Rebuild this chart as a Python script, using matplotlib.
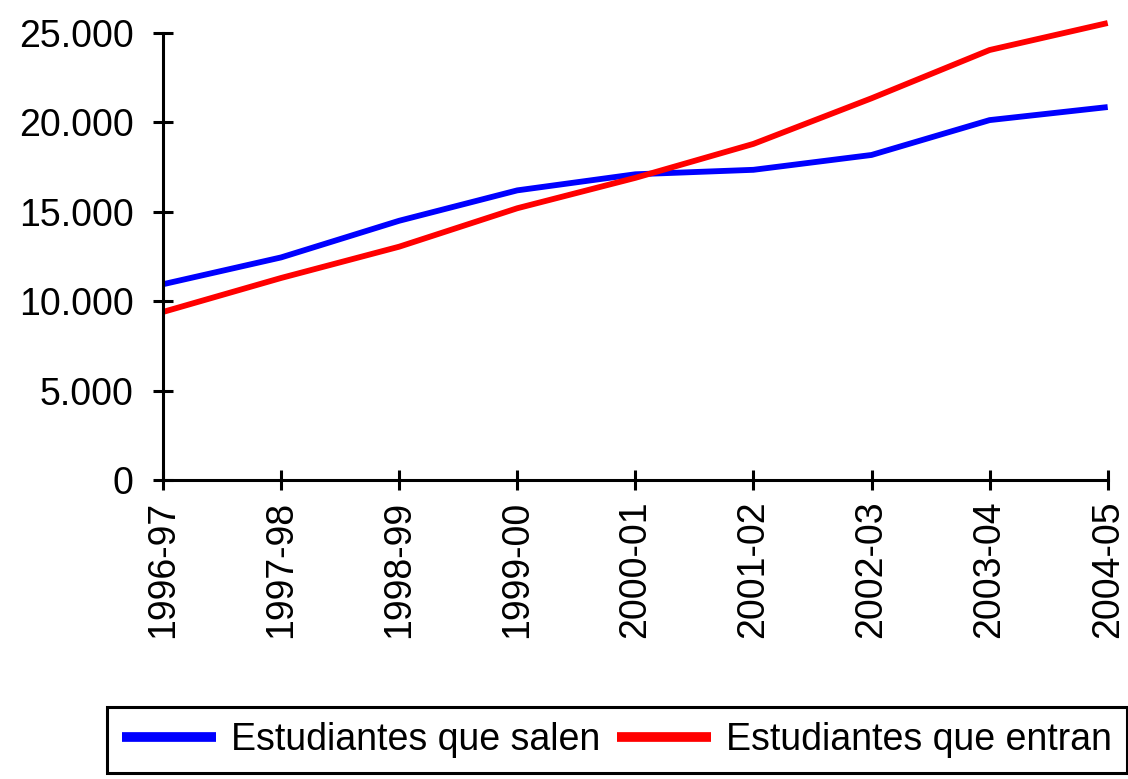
import matplotlib

matplotlib.use("Agg")
import matplotlib.pyplot as plt
from matplotlib.ticker import FuncFormatter

courses = ["1996-97", "1997-98", "1998-99", "1999-00", "2000-01",
           "2001-02", "2002-03", "2003-04", "2004-05"]
salen = [10950, 12450, 14500, 16200, 17100, 17350, 18180, 20130, 20860]
entran = [9400, 11300, 13050, 15200, 16900, 18800, 21350, 24050, 25560]

plt.rcParams["font.family"] = ["Liberation Sans", "DejaVu Sans"]

fig = plt.figure(figsize=(11.28, 7.79), dpi=100)
ax = fig.add_axes([0.1445, 0.3838, 0.8375, 0.5738])

x = list(range(len(courses)))
ax.plot(x, salen, color="#0000ff", linewidth=4.2, clip_on=False,
        solid_capstyle="butt", label="Estudiantes que salen")
ax.plot(x, entran, color="#ff0000", linewidth=4.2, clip_on=False,
        solid_capstyle="butt", label="Estudiantes que entran")

ax.set_xlim(0, len(courses) - 1)
ax.set_ylim(0, 25000)
ax.set_yticks(range(0, 25001, 5000))
ax.yaxis.set_major_formatter(FuncFormatter(lambda v, _: f"{int(v):,}".replace(",", ".")))
ax.set_xticks(x)
ax.set_xticklabels(courses, rotation=90)

for side in ("top", "right"):
    ax.spines[side].set_visible(False)
for side in ("left", "bottom"):
    ax.spines[side].set_linewidth(2.2)
    ax.spines[side].set_color("black")
ax.tick_params(axis="both", direction="inout", length=14, width=2.2,
               labelsize=27, colors="black")
ax.tick_params(axis="y", pad=14)
ax.tick_params(axis="x", pad=8)

leg = fig.legend(loc="upper left", bbox_to_anchor=(107 / 1128, 1 - 707 / 779),
                 ncol=2, fontsize=27, frameon=True, fancybox=False, framealpha=1,
                 handlelength=2.5, handletextpad=0.4, columnspacing=0.45,
                 borderpad=0.4, borderaxespad=0)
leg.get_frame().set_edgecolor("black")
leg.get_frame().set_linewidth(2.2)
for line in leg.get_lines():
    line.set_linewidth(7)

fig.savefig("out.png", dpi=100)
